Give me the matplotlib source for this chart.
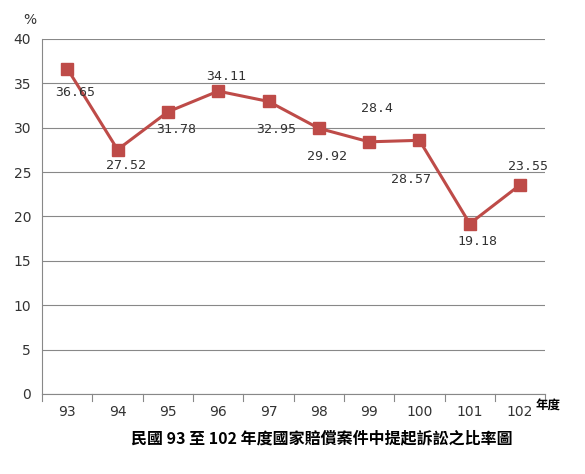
import matplotlib
matplotlib.use("Agg")
import matplotlib.pyplot as plt

years = ["93", "94", "95", "96", "97", "98", "99", "100", "101", "102"]
rates = [36.65, 27.52, 31.78, 34.11, 32.95, 29.92, 28.4, 28.57, 19.18, 23.55]
labels = ["36.65", "27.52", "31.78", "34.11", "32.95", "29.92", "28.4", "28.57", "19.18", "23.55"]
# pixel offsets of each value label from its point (dx, dy)
offsets = [(8, -24), (8, -16), (8, -18), (8, 15), (8, -28), (8, -28), (8, 33), (-8, -39), (8, -18), (8, 18)]

CJK = ["Noto Sans CJK TC", "DejaVu Sans"]
RED = "#be4b48"

fig = plt.figure(figsize=(5.85, 4.74), dpi=100)
ax = fig.add_axes([0.072, 0.169, 0.86, 0.749])
x = range(len(years))
ax.plot(x, rates, color=RED, lw=2.2, marker="s", ms=8, zorder=3)
for i, (v, s) in enumerate(zip(rates, labels)):
    ax.annotate(s, (i, v), xytext=offsets[i], textcoords="offset pixels",
                ha="center", va="center", fontsize=9.5, family="DejaVu Sans Mono",
                color="#333333")

ax.set_xlim(-0.5, len(years) - 0.5)
ax.set_ylim(0, 40)
ax.set_yticks(range(0, 41, 5))
ax.set_xticks(list(x))
ax.set_xticklabels(years)
ax.grid(axis="y", color="#888888", lw=0.8)
ax.set_axisbelow(True)
for sp in ["top", "right"]:
    ax.spines[sp].set_visible(False)
ax.spines["left"].set_color("#888888")
ax.spines["bottom"].set_color("#888888")
ax.tick_params(axis="y", length=0, labelsize=10, colors="#333333", pad=8)
ax.tick_params(axis="x", length=0, labelsize=10, colors="#333333", pad=8)
for i in range(len(years) + 1):
    ax.axvline(i - 0.5, ymin=-0.02, ymax=0, color="#888888", lw=0.8, clip_on=False)

fig.text(0.04, 0.95, "%", fontsize=10, color="#333333")
fig.text(0.915, 0.135, "年度", fontsize=9, family=CJK, weight="bold")
fig.text(0.55, 0.065, "民國 93 至 102 年度國家賠償案件中提起訴訟之比率圖",
         fontsize=11.5, family=CJK, weight="bold", ha="center")

fig.savefig("out.png", dpi=100)
